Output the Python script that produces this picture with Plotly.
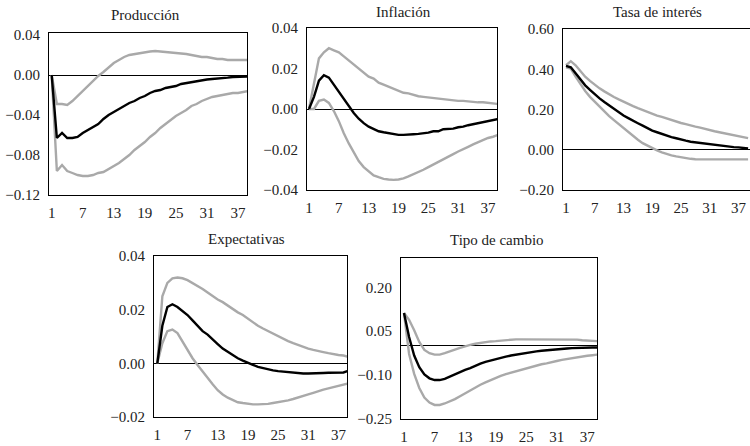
import plotly.graph_objects as go

periods = list(range(1, 40))

titles = ["Producción", "Inflación", "Tasa de interés", "Expectativas", "Tipo de cambio"]

prod_mean = [0, -0.063, -0.058, -0.063, -0.063, -0.062, -0.058, -0.055, -0.052, -0.049,
             -0.044, -0.040, -0.037, -0.034, -0.031, -0.028, -0.026, -0.023, -0.021, -0.018,
             -0.016, -0.015, -0.013, -0.012, -0.011, -0.009, -0.008, -0.007, -0.006, -0.005,
             -0.0045, -0.004, -0.0033, -0.003, -0.0026, -0.002, -0.002, -0.0018, -0.0015]
prod_upper = [0, -0.029, -0.029, -0.030, -0.026, -0.021, -0.016, -0.010, -0.005, -0.001,
              0.003, 0.008, 0.012, 0.015, 0.018, 0.020, 0.021, 0.022, 0.023, 0.0235,
              0.024, 0.0235, 0.023, 0.023, 0.022, 0.022, 0.021, 0.020, 0.019, 0.018,
              0.018, 0.017, 0.016, 0.016, 0.015, 0.015, 0.015, 0.015, 0.015]
prod_lower = [0, -0.096, -0.090, -0.096, -0.098, -0.100, -0.101, -0.101, -0.100, -0.098,
              -0.097, -0.094, -0.091, -0.088, -0.084, -0.080, -0.075, -0.071, -0.067, -0.062,
              -0.058, -0.053, -0.049, -0.045, -0.041, -0.038, -0.035, -0.031, -0.029, -0.026,
              -0.024, -0.022, -0.021, -0.020, -0.019, -0.018, -0.018, -0.017, -0.016]

infl_mean = [0, 0.006, 0.014, 0.0167, 0.0155, 0.012, 0.008, 0.0047, 0.0013, -0.002,
             -0.0048, -0.007, -0.0087, -0.010, -0.011, -0.0115, -0.012, -0.0125, -0.0128, -0.0128,
             -0.0128, -0.0125, -0.0123, -0.012, -0.0117, -0.011, -0.011, -0.010, -0.010, -0.0097,
             -0.009, -0.0087, -0.008, -0.0075, -0.007, -0.0065, -0.006, -0.0057, -0.005]
infl_upper = [0, 0.013, 0.025, 0.028, 0.030, 0.029, 0.028, 0.026, 0.024, 0.022,
              0.020, 0.018, 0.016, 0.015, 0.013, 0.012, 0.011, 0.010, 0.009, 0.008,
              0.0077, 0.007, 0.0063, 0.006, 0.0057, 0.0053, 0.005, 0.0048, 0.0047, 0.0043,
              0.004, 0.004, 0.0037, 0.0035, 0.0033, 0.0033, 0.003, 0.0028, 0.0025]
infl_lower = [0, 0, 0.004, 0.0047, 0.003, -0.001, -0.006, -0.012, -0.017, -0.0217,
              -0.0257, -0.0287, -0.031, -0.0328, -0.0337, -0.0345, -0.0348, -0.035, -0.0348, -0.0343,
              -0.0333, -0.0323, -0.031, -0.030, -0.0287, -0.0275, -0.026, -0.025, -0.0237, -0.0223,
              -0.021, -0.020, -0.0187, -0.0175, -0.0165, -0.0153, -0.0143, -0.0137, -0.0128]

tasa_mean = [0.417, 0.41, 0.38, 0.35, 0.32, 0.297, 0.275, 0.255, 0.237, 0.22,
             0.203, 0.187, 0.17, 0.157, 0.143, 0.132, 0.12, 0.107, 0.095, 0.087,
             0.078, 0.07, 0.063, 0.057, 0.05, 0.045, 0.04, 0.037, 0.033, 0.03,
             0.027, 0.023, 0.02, 0.017, 0.015, 0.013, 0.012, 0.008, 0.006]
tasa_upper = [0.42, 0.44, 0.42, 0.39, 0.363, 0.342, 0.322, 0.305, 0.29, 0.275,
              0.262, 0.25, 0.238, 0.227, 0.217, 0.207, 0.197, 0.187, 0.178, 0.17,
              0.163, 0.155, 0.147, 0.14, 0.133, 0.127, 0.12, 0.115, 0.11, 0.103,
              0.098, 0.092, 0.087, 0.082, 0.077, 0.072, 0.067, 0.062, 0.058]
tasa_lower = [0.41, 0.403, 0.363, 0.325, 0.292, 0.263, 0.238, 0.213, 0.19, 0.167,
              0.147, 0.127, 0.107, 0.087, 0.067, 0.05, 0.033, 0.02, 0.007, -0.003,
              -0.013, -0.022, -0.028, -0.033, -0.038, -0.042, -0.045, -0.047, -0.048, -0.048,
              -0.048, -0.048, -0.048, -0.048, -0.048, -0.048, -0.048, -0.048, -0.048]

expe_mean = [0, 0.014, 0.021, 0.022, 0.021, 0.0195, 0.018, 0.016, 0.014, 0.012,
             0.0107, 0.0088, 0.0072, 0.0055, 0.0043, 0.003, 0.0019, 0.001, 0.0001, -0.0006,
             -0.0013, -0.0018, -0.0023, -0.0026, -0.0029, -0.0031, -0.0034, -0.0036, -0.0038, -0.0038,
             -0.0038, -0.0038, -0.0038, -0.0036, -0.0035, -0.0035, -0.0034, -0.0034, -0.0028]
expe_upper = [0, 0.025, 0.030, 0.0317, 0.032, 0.0317, 0.031, 0.030, 0.029, 0.0277,
              0.0264, 0.025, 0.0238, 0.0228, 0.0215, 0.0203, 0.019, 0.018, 0.0166, 0.0153,
              0.014, 0.013, 0.012, 0.011, 0.010, 0.009, 0.0083, 0.0075, 0.0068, 0.0062,
              0.0055, 0.005, 0.0045, 0.0042, 0.0038, 0.0034, 0.0031, 0.0029, 0.0024]
expe_lower = [0, 0.0075, 0.012, 0.0126, 0.0113, 0.0082, 0.005, 0.0019, -0.0006, -0.0031,
              -0.0057, -0.0078, -0.010, -0.0116, -0.0128, -0.0138, -0.0145, -0.0148, -0.0151, -0.0153,
              -0.0153, -0.0153, -0.0151, -0.0148, -0.0145, -0.0142, -0.0138, -0.0133, -0.0128, -0.0122,
              -0.0116, -0.011, -0.0103, -0.0098, -0.0093, -0.0088, -0.0083, -0.0078, -0.0075]

tipo_mean = [0.112, 0.03, -0.033, -0.073, -0.098, -0.111, -0.117, -0.117, -0.113, -0.105,
             -0.098, -0.09, -0.082, -0.076, -0.068, -0.061, -0.055, -0.05, -0.046, -0.041,
             -0.037, -0.033, -0.03, -0.026, -0.024, -0.022, -0.019, -0.017, -0.015, -0.013,
             -0.011, -0.010, -0.009, -0.008, -0.007, -0.006, -0.006, -0.006, -0.006]
tipo_upper = [0.112, 0.089, 0.053, 0.013, -0.014, -0.025, -0.03, -0.03, -0.025, -0.018,
              -0.013, -0.007, -0.001, 0.003, 0.007, 0.01, 0.013, 0.015, 0.016, 0.018,
              0.019, 0.021, 0.022, 0.022, 0.022, 0.022, 0.022, 0.022, 0.022, 0.022,
              0.022, 0.022, 0.022, 0.021, 0.021, 0.019, 0.018, 0.017, 0.016]
tipo_lower = [0.112, -0.028, -0.096, -0.144, -0.177, -0.194, -0.202, -0.202, -0.197, -0.19,
              -0.182, -0.172, -0.162, -0.151, -0.142, -0.133, -0.125, -0.117, -0.11, -0.103,
              -0.097, -0.092, -0.086, -0.081, -0.077, -0.072, -0.068, -0.063, -0.06, -0.055,
              -0.052, -0.048, -0.045, -0.041, -0.039, -0.037, -0.034, -0.032, -0.03]

x_ticks = [1, 7, 13, 19, 25, 31, 37]
y_ticks = [
    [-0.12, -0.08, -0.04, 0.00, 0.04],
    [-0.04, -0.02, 0.00, 0.02, 0.04],
    [-0.20, 0.00, 0.20, 0.40, 0.60],
    [-0.02, 0.00, 0.02, 0.04],
    [-0.25, -0.10, 0.05, 0.20],
]
y_ranges = [[-0.12, 0.042], [-0.04, 0.04], [-0.2, 0.6], [-0.02, 0.04], [-0.25, 0.30]]
x_ranges = [[0.48, 38.74], [0.6, 38.8], [0.37, 39.4], [0.34, 38.7], [0.41, 38.9]]

series = [
    (prod_lower, prod_mean, prod_upper),
    (infl_lower, infl_mean, infl_upper),
    (tasa_lower, tasa_mean, tasa_upper),
    (expe_lower, expe_mean, expe_upper),
    (tipo_lower, tipo_mean, tipo_upper),
]

W, H = 750, 446
# pixel boxes: (left, right, top, bottom)
boxes = [(49, 247, 33, 195), (307, 497, 28, 190), (563, 751, 29, 190),
         (154, 347, 256, 417), (401, 597, 258, 419)]
title_pos = [(145, 15), (403, 12), (657, 12), (247, 239), (497, 240)]

FONT = "Liberation Serif"
FS = 15
TXT = "#222222"
GRAY = "#a9a9a9"

fig = go.Figure()
layout = dict(width=W, height=H, margin=dict(l=0, r=0, t=0, b=0, pad=0, autoexpand=False),
              paper_bgcolor="white", plot_bgcolor="white", showlegend=False,
              font=dict(family=FONT, size=FS, color=TXT))
annotations = []
for i, (lo, mn, up) in enumerate(series):
    k = "" if i == 0 else str(i + 1)
    xa, ya = "x" + k, "y" + k
    for vals, col, w in [(lo, GRAY, 2.4), (up, GRAY, 2.4), (mn, "#000000", 2.4)]:
        fig.add_trace(go.Scatter(x=periods, y=vals, mode="lines", xaxis=xa, yaxis=ya,
                                 line=dict(color=col, width=w), hoverinfo="skip"))
    l, r, t, b = boxes[i]
    layout["xaxis" + k] = dict(domain=[l / W, min(r / W, 1.0)], anchor=ya, range=x_ranges[i],
                               tickvals=x_ticks, showgrid=False, zeroline=False,
                               showline=True, linecolor="#000000", linewidth=1, mirror=True,
                               ticks="", ticklabelstandoff=4, automargin=False,
                               tickfont=dict(family=FONT, size=FS, color=TXT))
    layout["yaxis" + k] = dict(domain=[1 - b / H, 1 - t / H], anchor=xa, range=y_ranges[i],
                               tickvals=y_ticks[i], tickformat=".2f", showgrid=False,
                               zeroline=True, zerolinecolor="#000000", zerolinewidth=1,
                               showline=True, linecolor="#000000", linewidth=1, mirror=True,
                               ticks="", ticklabelstandoff=5, automargin=False,
                               tickfont=dict(family=FONT, size=FS, color=TXT))
    tx, ty = title_pos[i]
    annotations.append(dict(text=titles[i], x=tx / W, y=1 - ty / H, xref="paper", yref="paper",
                            showarrow=False, xanchor="center", yanchor="middle",
                            font=dict(family=FONT, size=FS, color=TXT)))
layout["annotations"] = annotations
fig.update_layout(**layout)
post = ("var d=document.documentElement,b=document.body;"
        "d.style.margin='0';d.style.padding='0';d.style.overflow='hidden';"
        "b.style.margin='0';b.style.padding='0';b.style.overflow='hidden';")
fig.write_html("out.html", config={"displayModeBar": False}, post_script=post)
